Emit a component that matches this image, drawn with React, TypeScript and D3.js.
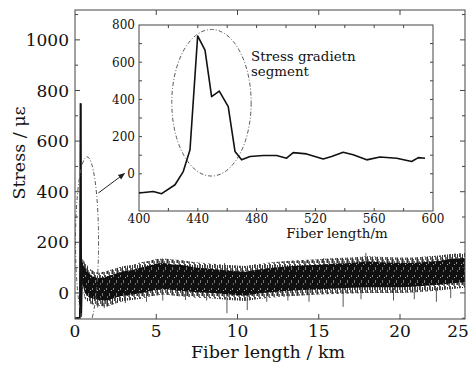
import React from 'react';
import * as d3 from 'd3';

const W = 469;
const H = 368;
const FONT = "'DejaVu Serif', serif";

// main trace: the large spike near the start of the fiber (km, stress)
const spikeKm = [0.02, 0.3, 0.34, 0.36, 0.38, 0.45];
const spikeVal = [-100, -98, 750, 745, -90, 120];

// dense noisy band (km, upper / lower edge of the dark core)
const bandKm = [0.45, 0.6, 0.9, 1.2, 1.5, 2.0, 2.5, 3.0, 3.5, 4.0, 4.5, 5.0, 5.5, 6.0, 6.5, 7.0, 7.5, 8.0, 8.5, 9.0, 9.5, 10.0, 10.5, 11.0, 11.5, 12.0, 13.0, 14.0, 15.0, 16.0, 17.0, 18.0, 19.0, 20.0, 21.0, 22.0, 23.0, 24.0, 25.0];
const coreHi = [115, 100, 75, 62, 58, 66, 76, 86, 90, 100, 106, 116, 118, 112, 111, 105, 100, 98, 95, 91, 88, 86, 84, 90, 95, 99, 104, 108, 111, 116, 118, 124, 120, 118, 118, 122, 126, 135, 138];
const coreLo = [40, 0, -18, -24, -28, -30, -18, -10, -6, -2, 6, 12, 16, 12, 8, 6, 3, 2, 0, -3, -6, -8, -10, -5, 0, 3, 8, 12, 15, 18, 20, 22, 22, 22, 24, 28, 32, 38, 42];
// lighter fringe around the core
const fringeHi = [135, 122, 96, 84, 80, 88, 98, 106, 110, 120, 126, 134, 136, 132, 130, 125, 120, 118, 115, 112, 110, 108, 106, 112, 116, 120, 126, 130, 133, 138, 140, 145, 142, 140, 140, 144, 148, 155, 158];
const fringeLo = [20, -22, -42, -48, -52, -54, -42, -32, -28, -24, -16, -10, -6, -10, -14, -16, -19, -20, -22, -25, -28, -30, -32, -27, -22, -19, -14, -10, -6, -4, -2, 0, 0, 0, 2, 6, 10, 16, 20];

// isolated outliers sticking out of the band
const outlierKm = [1.4, 1.8, 3.1, 4.4, 5.4, 6.8, 8.1, 9.35, 10.6, 11.8, 13.1, 14.4, 16.5, 17.6, 19.6, 21.1, 22.8, 23.9, 5.3, 9.2, 14.2, 15.3, 17.9, 21.0, 23.8];
const outlierVal = [-58, -60, -40, -35, -30, -28, -30, -80, -68, -35, -30, -35, -55, -25, -30, -25, -35, -20, 132, 118, 125, 138, 158, 128, 145];

const mainXTicks = [0, 5, 10, 15, 20, 25];
const mainYTicks = [0, 200, 400, 600, 800, 1000];

// inset: zoom on the stress gradient segment (m, stress)
const insetM = [400, 409.7, 415.4, 424.5, 430.1, 434.7, 439.9, 444.9, 449.4, 454.6, 460.7, 465.3, 469.8, 475.5, 484.5, 493.6, 500.4, 504.9, 514, 525.3, 531, 538.9, 545.7, 554.9, 563.9, 575.3, 585.5, 590, 594.6];
const insetStress = [-103, -95, -107, -59, 12, 129, 741, 665, 415, 445, 361, 120, 75, 93, 98, 98, 84, 114, 107, 80, 93, 116, 102, 75, 90, 84, 66, 87, 84];
const insetXTicks = [400, 440, 480, 520, 560, 600];
const insetYTicks = [0, 200, 400, 600, 800];

export default function App() {
  // main axes
  const x = d3.scaleLinear().domain([0, 20, 25]).range([75, 400, 465]);
  const y = d3.scaleLinear().domain([-103, 1118]).range([319, 10]);
  const [x0, x1] = [x(0), x(25)];
  const [yb, yt] = [y(-103), y(1118)];

  // inset axes
  const ix = d3.scaleLinear().domain([400, 600]).range([139, 433]);
  const iy = d3.scaleLinear().domain([-200, 800]).range([211, 25]);

  const spikePath = d3.line<number>().x((d, i) => x(spikeKm[i])).y((d) => y(d))(spikeVal) || '';
  const coreArea = d3.area<number>()
    .x((d, i) => x(bandKm[i]))
    .y0((d, i) => y(coreLo[i]))
    .y1((d) => y(d))(coreHi) || '';
  const fringeArea = d3.area<number>()
    .x((d, i) => x(bandKm[i]))
    .y0((d, i) => y(fringeLo[i]))
    .y1((d) => y(d))(fringeHi) || '';
  const insetPath = d3.line<number>().x((d, i) => ix(insetM[i])).y((d) => iy(d))(insetStress) || '';

  const yMinor = d3.range(-100, 1101, 100);
  const ixMinor = d3.range(400, 601, 20);
  const iyMinor = d3.range(-200, 801, 100);

  return (
    <div style={{ position: 'fixed', left: 0, top: 0 }}>
      <svg width={W} height={H} style={{ display: 'block', background: '#fff', fontFamily: FONT }}>
        <defs>
          <clipPath id="plot">
            <rect x={x0} y={yt} width={x1 - x0} height={yb - yt} />
          </clipPath>
          <pattern id="hatch" width={5} height={11} patternUnits="userSpaceOnUse">
            <rect x={0} y={0} width={1} height={7} fill="#555" />
            <rect x={1} y={4} width={1} height={6} fill="#888" />
            <rect x={2} y={1} width={1} height={9} fill="#333" />
            <rect x={3} y={6} width={1} height={5} fill="#777" />
            <rect x={4} y={0} width={1} height={4} fill="#444" />
            <rect x={4} y={8} width={1} height={3} fill="#666" />
          </pattern>
          <pattern id="coreTex" width={7} height={13} patternUnits="userSpaceOnUse">
            <rect x={0} y={0} width={7} height={13} fill="#101010" />
            <rect x={1} y={2} width={1} height={2} fill="#888" />
            <rect x={4} y={7} width={1} height={3} fill="#777" />
            <rect x={6} y={4} width={1} height={1} fill="#aaa" />
            <rect x={2} y={10} width={1} height={2} fill="#666" />
          </pattern>
          <marker id="arrow" viewBox="0 0 10 10" refX={9} refY={5} markerWidth={7} markerHeight={7} orient="auto">
            <path d="M0,1 L10,5 L0,9 Z" fill="#222" />
          </marker>
        </defs>

        {/* main data */}
        <g clipPath="url(#plot)">
          <path d={fringeArea} fill="url(#hatch)" />
          {outlierKm.map((k, i) => (
            <line key={i} x1={x(k)} x2={x(k)} y1={y(outlierVal[i] < 50 ? 20 : 80)} y2={y(outlierVal[i])} stroke="#444" strokeWidth={0.9} />
          ))}
          <path d={coreArea} fill="url(#coreTex)" />
          <path d={spikePath} fill="none" stroke="#111" strokeWidth={1.8} />
          <ellipse cx={x(0.74)} cy={y(202)} rx={x(0.74) - x(0.03)} ry={y(-134) - y(202)} fill="none" stroke="#555" strokeWidth={1} strokeDasharray="4 2 1 2" />
        </g>

        {/* main frame and ticks */}
        <rect x={x0} y={yt} width={x1 - x0} height={yb - yt} fill="none" stroke="#444" strokeWidth={1} />
        {mainXTicks.slice(1, -1).map((t) => (
          <g key={t}>
            <line x1={x(t)} x2={x(t)} y1={yb} y2={yb - 5} stroke="#444" />
            <line x1={x(t)} x2={x(t)} y1={yt} y2={yt + 5} stroke="#444" />
          </g>
        ))}
        {yMinor.map((t) => (
          <g key={t}>
            <line x1={x0} x2={x0 + (t % 200 === 0 ? 5 : 3)} y1={y(t)} y2={y(t)} stroke="#444" />
            <line x1={x1} x2={x1 - (t % 200 === 0 ? 5 : 3)} y1={y(t)} y2={y(t)} stroke="#444" />
          </g>
        ))}
        {mainXTicks.map((t, i) => (
          <text key={t} x={x(t)} dx={i === mainXTicks.length - 1 ? -7 : 0} y={337} textAnchor="middle" fontSize={17} fill="#111">{t}</text>
        ))}
        {mainYTicks.map((t) => (
          <text key={t} x={69} y={y(t)} dy="0.36em" textAnchor="end" fontSize={17} fill="#111">{t}</text>
        ))}
        <text x={268} y={358} textAnchor="middle" fontSize={17.5} fill="#111">Fiber length / km</text>
        <text transform={`translate(25,${153}) rotate(-90)`} textAnchor="middle" fontSize={17.5} fill="#111">Stress / με</text>

        {/* arrow from main ellipse to inset */}
        <line x1={x(1.44)} y1={y(395)} x2={x(3.05)} y2={y(472)} stroke="#222" strokeWidth={1} markerEnd="url(#arrow)" />

        {/* inset */}
        <rect x={ix(400)} y={iy(800)} width={ix(600) - ix(400)} height={iy(-200) - iy(800)} fill="#fff" stroke="#444" strokeWidth={1} />
        {ixMinor.slice(1, -1).map((t) => (
          <g key={t}>
            <line x1={ix(t)} x2={ix(t)} y1={iy(-200)} y2={iy(-200) - 3} stroke="#444" />
            <line x1={ix(t)} x2={ix(t)} y1={iy(800)} y2={iy(800) + 3} stroke="#444" />
          </g>
        ))}
        {iyMinor.slice(1, -1).map((t) => (
          <g key={t}>
            <line x1={ix(400)} x2={ix(400) + 3} y1={iy(t)} y2={iy(t)} stroke="#444" />
            <line x1={ix(600)} x2={ix(600) - 3} y1={iy(t)} y2={iy(t)} stroke="#444" />
          </g>
        ))}
        <ellipse cx={ix(449.3)} cy={iy(382)} rx={ix(449.3) - ix(422.3)} ry={iy(-12) - iy(382)} fill="none" stroke="#555" strokeWidth={1} strokeDasharray="4 2 1 2" />
        <path d={insetPath} fill="none" stroke="#111" strokeWidth={1.6} strokeLinejoin="round" />
        {insetXTicks.map((t) => (
          <text key={t} x={ix(t)} y={223} textAnchor="middle" fontSize={12} fill="#111">{t}</text>
        ))}
        {insetYTicks.map((t) => (
          <text key={t} x={135} y={iy(t)} dy="0.36em" textAnchor="end" fontSize={12} fill="#111">{t}</text>
        ))}
        <text x={337} y={238} textAnchor="middle" fontSize={13.4} fill="#111">Fiber length/m</text>
        <text x={251} y={61} fontSize={13.4} fill="#111">Stress gradietn</text>
        <text x={251} y={76} fontSize={13.4} fill="#111">segment</text>
      </svg>
    </div>
  );
}
